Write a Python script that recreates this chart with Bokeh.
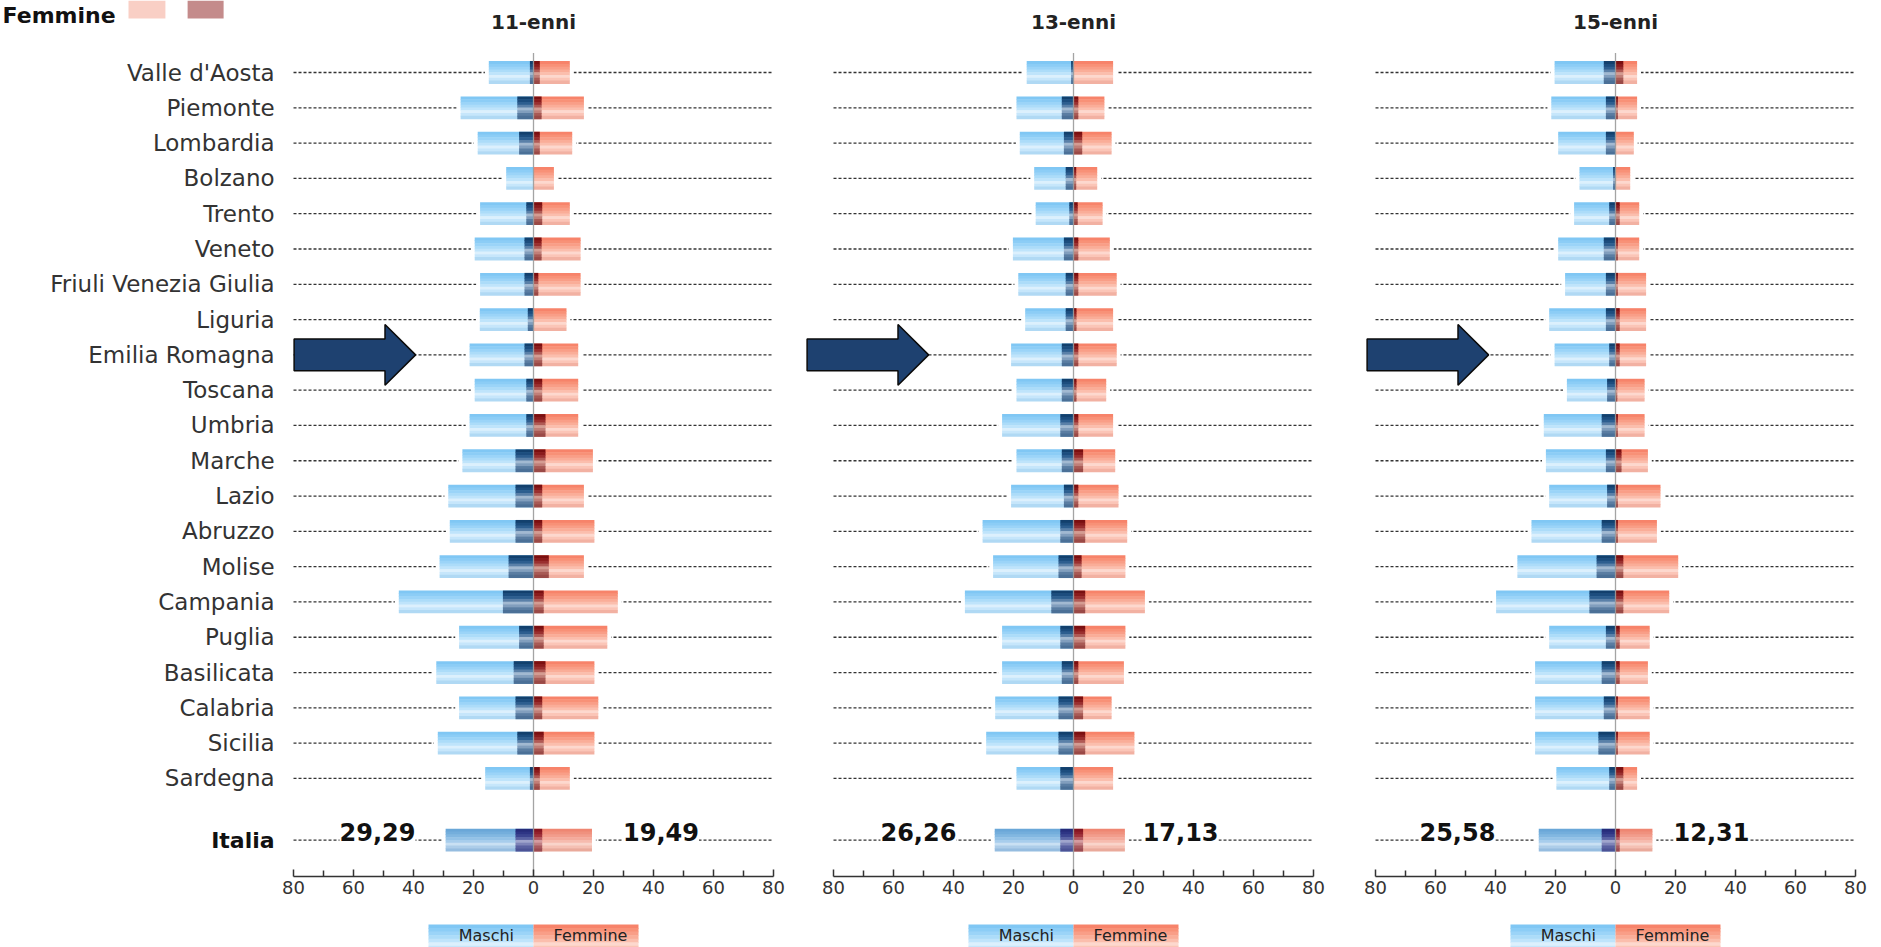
from bokeh.plotting import figure
from bokeh.models import ColumnDataSource, Range1d, LinearAxis, FixedTicker, LabelSet
from bokeh.layouts import row
from bokeh.embed import file_html
from bokeh.resources import INLINE
from bokeh.core.properties import value

# ---------------------------------------------------------------- data
regions = ["Valle d'Aosta", "Piemonte", "Lombardia", "Bolzano", "Trento", "Veneto",
           "Friuli Venezia Giulia", "Liguria", "Emilia Romagna", "Toscana", "Umbria",
           "Marche", "Lazio", "Abruzzo", "Molise", "Campania", "Puglia", "Basilicata",
           "Calabria", "Sicilia", "Sardegna", "Italia"]

age_groups = ["11-enni", "13-enni", "15-enni"]

# 11-enni: total share and inner (darker) share, males / females
m11_tot = [14.9, 24.3, 18.6, 9.1, 17.8, 19.6, 17.8, 17.9, 21.3, 19.6, 21.3, 23.7, 28.4, 27.9,
           31.3, 44.9, 24.8, 32.4, 24.8, 31.9, 16.1, 29.29]
m11_dark = [1.2, 5.4, 4.8, 0.0, 2.4, 3.0, 3.0, 1.9, 3.0, 2.4, 2.4, 6.0, 6.0, 6.0,
            8.3, 10.2, 4.8, 6.6, 6.0, 5.4, 1.2, 6.0]
f11_tot = [12.1, 16.8, 12.9, 6.8, 12.1, 15.7, 15.7, 11.0, 14.9, 14.9, 14.9, 19.8, 16.8, 20.3,
           16.8, 28.1, 24.6, 20.3, 21.6, 20.3, 12.1, 19.49]
f11_dark = [2.1, 2.7, 2.1, 0.0, 2.9, 2.7, 1.6, 0.0, 2.9, 2.9, 4.0, 4.0, 2.9, 2.9,
            5.1, 3.4, 3.4, 4.0, 2.9, 3.4, 2.1, 2.9]

# 13-enni
m13_tot = [15.6, 19.0, 17.9, 13.1, 12.6, 20.2, 18.4, 16.1, 20.8, 19.0, 23.8, 19.0, 20.8, 30.3,
           26.8, 36.2, 23.8, 23.8, 26.1, 29.1, 19.0, 26.26]
m13_dark = [0.8, 3.9, 3.2, 2.6, 1.4, 3.2, 2.6, 2.6, 3.9, 3.9, 4.4, 3.9, 3.2, 4.4,
            5.0, 7.4, 4.4, 3.9, 5.0, 5.0, 4.4, 4.4]
f13_tot = [13.2, 10.3, 12.7, 7.9, 9.7, 12.1, 14.4, 13.2, 14.4, 10.9, 13.2, 13.9, 15.0, 17.9,
           17.3, 23.8, 17.3, 16.8, 12.7, 20.3, 13.2, 17.13]
f13_dark = [0.0, 1.6, 2.9, 0.9, 1.4, 1.6, 1.6, 1.0, 1.6, 1.0, 1.6, 3.2, 1.6, 3.9,
            2.7, 3.9, 3.9, 1.6, 3.2, 3.9, 0.0, 3.2]

# 15-enni
m15_tot = [20.3, 21.4, 19.1, 12.0, 13.8, 19.1, 16.8, 22.1, 20.3, 16.2, 23.9, 23.2, 22.1, 28.0,
           32.7, 39.8, 22.1, 26.8, 26.8, 26.8, 19.7, 25.58]
m15_dark = [3.9, 3.2, 3.2, 0.8, 2.1, 3.9, 3.2, 3.2, 2.1, 2.8, 4.6, 3.2, 2.8, 4.6,
            6.3, 8.7, 3.2, 4.6, 3.9, 5.7, 2.1, 4.6]
f15_tot = [7.2, 7.2, 6.1, 4.9, 7.9, 7.9, 10.2, 10.2, 10.2, 9.7, 9.7, 10.8, 15.0, 13.8,
           20.9, 17.9, 11.4, 10.8, 11.4, 11.4, 7.2, 12.31]
f15_dark = [2.6, 0.8, 0.0, 0.0, 1.4, 0.8, 0.8, 1.4, 1.4, 0.6, 0.8, 2.0, 0.8, 0.8,
            2.6, 2.6, 1.4, 1.4, 0.8, 0.8, 2.6, 1.4]

tick_values = [-80, -60, -40, -20, 0, 20, 40, 60, 80]
minor_tick_values = [-70, -50, -30, -10, 10, 30, 50, 70]

# ---------------------------------------------------------------- layout / style
HEIGHT = 947
ROW_Y = [float(i) for i in range(len(regions) - 1)] + [21.75]   # Italia set apart
Y_BOTTOM, Y_TOP = 24.79, -2.04
AXIS_Y = 22.78
ZERO_TOP = -0.55
BAR_H = 0.63
N_STRIPS = 8
HIGHLIGHT_ROW = 8          # Emilia Romagna

FONT = "DejaVu Sans"
TEXT_COLOR = "#333333"

# vertical colour ramps, top -> bottom, giving the bars their glossy look
BLUE_LIGHT = ["#80c7f4", "#8ccdf6", "#9bd4f8", "#acdcf9", "#bfe4fb", "#dcf0fd", "#c6e6fb", "#b0d9f4"]
BLUE_DARK = ["#12406d", "#1c4d7e", "#2d5e8f", "#5a80a8", "#a2b9d1", "#819ebd", "#5a7da2", "#4b7097"]
RED_LIGHT = ["#f7836a", "#f89177", "#f99e87", "#faad98", "#fbbead", "#fdd8ce", "#fbc5b7", "#f2b1a2"]
RED_DARK = ["#7a0f10", "#8a1b1c", "#9a2f2f", "#b05a55", "#d49c92", "#c17f78", "#a85a55", "#9a4946"]
# national row uses slightly deeper tones
BLUE_LIGHT_IT = ["#6aa7d8", "#74aedc", "#82b7e1", "#94c2e7", "#a7cdec", "#c9e0f3", "#adcde9", "#96bde0"]
BLUE_DARK_IT = ["#262c7a", "#2e3585", "#3c4490", "#5a62a3", "#a0a5cc", "#7e84b8", "#5a61a1", "#4c5396"]
RED_LIGHT_IT = ["#ef8672", "#f0917e", "#f29d8c", "#f4ab9c", "#f6bbae", "#f9d4ca", "#f5c0b3", "#eaaa9b"]
RED_DARK_IT = ["#851522", "#93202c", "#a0333d", "#b55b62", "#d49ca0", "#c17f84", "#a95b61", "#9b4a51"]

panels = [
    dict(title=age_groups[0], m_tot=m11_tot, m_dark=m11_dark, f_tot=f11_tot, f_dark=f11_dark,
         x_range=(-177.67, 90.0), width=803, arrow_tip=-39.3, lbl_x=(-52.0, 42.5)),
    dict(title=age_groups[1], m_tot=m13_tot, m_dark=m13_dark, f_tot=f13_tot, f_dark=f13_dark,
         x_range=(-90.0, 90.0), width=540, arrow_tip=-48.3, lbl_x=(-51.7, 35.7)),
    dict(title=age_groups[2], m_tot=m15_tot, m_dark=m15_dark, f_tot=f15_tot, f_dark=f15_dark,
         x_range=(-90.67, 88.67), width=538, arrow_tip=-42.3, lbl_x=(-52.7, 32.0)),
]


def strip_columns(data, ys, height):
    """Add one y column per colour band of a bar of the given height."""
    for k in range(N_STRIPS):
        off = -height / 2 + (k + 0.5) * height / N_STRIPS
        data[f"y{k}"] = [y + off for y in ys]


def ramp_columns(data, name, regular, national, n_rows):
    for k in range(N_STRIPS):
        data[f"{name}{k}"] = [national[k] if i == n_rows - 1 else regular[k] for i in range(n_rows)]


def gradient_hbar(p, src, left, right, ramp, height):
    h = height / N_STRIPS
    for k in range(N_STRIPS):
        p.hbar(y=f"y{k}", left=left, right=right, height=h * 1.2, fill_color=f"{ramp}{k}",
               line_color=None, source=src)


def make_panel(cfg, first):
    n = len(regions)
    data = dict(
        region=regions, y=ROW_Y,
        m_left=[-v for v in cfg["m_tot"]], m_dark_left=[-v for v in cfg["m_dark"]],
        f_right=cfg["f_tot"], f_dark_right=cfg["f_dark"],
        halo_left=[-v - 1.3 for v in cfg["m_tot"]], halo_right=[v + 1.3 for v in cfg["f_tot"]],
        zero=[0.0] * n,
    )
    strip_columns(data, ROW_Y, BAR_H)
    ramp_columns(data, "bl", BLUE_LIGHT, BLUE_LIGHT_IT, n)
    ramp_columns(data, "bd", BLUE_DARK, BLUE_DARK_IT, n)
    ramp_columns(data, "rl", RED_LIGHT, RED_LIGHT_IT, n)
    ramp_columns(data, "rd", RED_DARK, RED_DARK_IT, n)
    src = ColumnDataSource(data)

    p = figure(width=cfg["width"], height=HEIGHT,
               x_range=Range1d(*cfg["x_range"]), y_range=Range1d(Y_BOTTOM, Y_TOP),
               x_axis_type=None, y_axis_type=None, toolbar_location=None,
               output_backend="svg", min_border=0, outline_line_color=None,
               background_fill_color="white", border_fill_color="white")

    # dotted guide per row
    p.segment(x0=-80, x1=80, y0="y", y1="y", line_color="#333333", line_width=1.3,
              line_dash="3 2", source=src)
    # white margin that interrupts the guide next to each bar
    p.hbar(y="y", left="halo_left", right="halo_right", height=0.2, fill_color="white",
           line_color=None, source=src)

    # bars: overall share, then inner share near the axis
    gradient_hbar(p, src, "m_left", "zero", "bl", BAR_H)
    gradient_hbar(p, src, "zero", "f_right", "rl", BAR_H)
    gradient_hbar(p, src, "m_dark_left", "zero", "bd", BAR_H)
    gradient_hbar(p, src, "zero", "f_dark_right", "rd", BAR_H)

    # zero line
    p.segment(x0=0, x1=0, y0=ZERO_TOP, y1=AXIS_Y, line_color="#9a9a9a", line_width=1.3, line_alpha=0.9)

    # x axis drawn at the bottom of the bar area
    ax = LinearAxis(fixed_location=AXIS_Y, bounds=(-80, 80),
                    ticker=FixedTicker(ticks=tick_values, minor_ticks=minor_tick_values),
                    major_label_overrides={t: str(abs(t)) for t in tick_values},
                    axis_line_color="#333333", axis_line_width=1.5,
                    major_tick_in=7, major_tick_out=0, minor_tick_in=6, minor_tick_out=0,
                    major_tick_line_color="#333333", minor_tick_line_color="#333333",
                    major_tick_line_width=1.5, minor_tick_line_width=1.5,
                    major_label_standoff=4, major_label_text_font=FONT,
                    major_label_text_font_size="18px", major_label_text_color=TEXT_COLOR)
    p.add_layout(ax, "below")

    # panel title
    p.text(x=[0], y=[-1.42], text=[cfg["title"]], text_font=value(FONT), text_font_style="bold",
           text_font_size="20px", text_color="#222222", text_align="center", text_baseline="middle")

    # arrow pointing at the highlighted region
    tx, yc = cfg["arrow_tip"], HIGHLIGHT_ROW
    L, H, sh, hh = 40.5, 10.2, 0.45, 0.86
    p.patch(x=[tx - L, tx - H, tx - H, tx, tx - H, tx - H, tx - L],
            y=[yc - sh, yc - sh, yc - hh, yc, yc + hh, yc + sh, yc + sh],
            fill_color="#1e4170", line_color="#0b0b0b", line_width=1.5)

    # national totals written next to the bars
    it = n - 1
    lbl = ColumnDataSource(dict(
        x=list(cfg["lbl_x"]), y=[ROW_Y[it] - 0.22, ROW_Y[it] - 0.22],
        text=[f"{cfg['m_tot'][it]:.2f}".replace(".", ","), f"{cfg['f_tot'][it]:.2f}".replace(".", ",")]))
    p.add_layout(LabelSet(x="x", y="y", text="text", source=lbl, text_align="center",
                          text_baseline="middle", text_font=value(FONT), text_font_style="bold",
                          text_font_size="24px", text_color="#111111",
                          background_fill_color="white"))

    # bottom key
    key = ColumnDataSource(dict(y=[24.55] * 2, left=[-35, 0], right=[0, 35]))
    strip_columns(key.data, key.data["y"], 0.8)
    for k in range(N_STRIPS):
        key.data[f"kb{k}"] = [BLUE_LIGHT[k], RED_LIGHT[k]]
    gradient_hbar(p, key, "left", "right", "kb", 0.8)
    p.text(x=[-15.7, 19.0], y=[24.45, 24.45], text=["Maschi", "Femmine"], text_font=value(FONT),
           text_font_size="16px", text_color="#222222", text_align="center",
           text_baseline="middle")

    if first:
        # region names
        reg = ColumnDataSource(dict(y=ROW_Y[:-1], region=regions[:-1]))
        p.text(x=-86.3, y="y", text="region", source=reg, text_font=value(FONT),
               text_font_size="23px", text_color=TEXT_COLOR, text_align="right",
               text_baseline="middle")
        p.text(x=[-86.3], y=[ROW_Y[-1]], text=[regions[-1]], text_font=value(FONT),
               text_font_style="bold", text_font_size="22px", text_color="#111111",
               text_align="right", text_baseline="middle")
        # key of the inner / outer shares for girls
        p.text(x=[-139.3], y=[-1.61], text=["Femmine"], text_font=value(FONT),
               text_font_style="bold", text_font_size="22px", text_color="#111111",
               text_align="right", text_baseline="alphabetic")
        p.hbar(y=[-1.9, -1.9], left=[-135.0, -115.3], right=[-122.7, -103.3], height=0.74,
               fill_color=["#f9cfc5", "#c48b8b"], line_color=None)
    return p


figs = [make_panel(cfg, i == 0) for i, cfg in enumerate(panels)]
layout = row(*figs, spacing=0)

open("out.html", "w").write(file_html(layout, INLINE))
